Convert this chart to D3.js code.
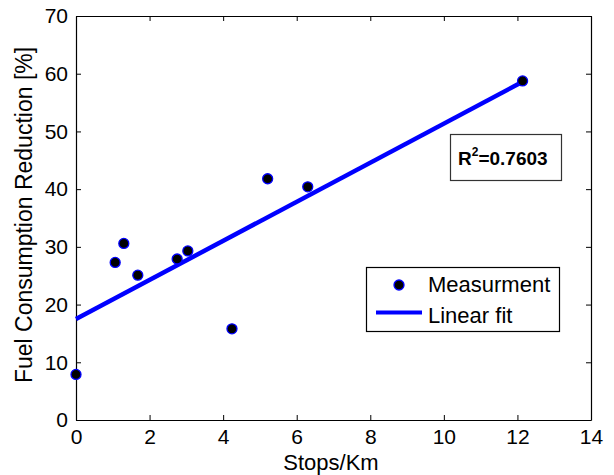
<!DOCTYPE html>
<html>
<head>
<meta charset="utf-8">
<script src="https://cdn.jsdelivr.net/npm/d3@7"></script>
<style>
  html, body { margin: 0; padding: 0; background: #fff; }
  svg { display: block; }
  text { font-family: Arial, "Liberation Sans", Helvetica, sans-serif; fill: #000; }
</style>
</head>
<body>
<script>
// ---- data ----
const stops = [0, 1.065, 1.30, 1.68, 2.75, 3.04, 4.24, 5.21, 6.30, 12.14];
const reduction = [7.9, 27.3, 30.6, 25.1, 27.9, 29.3, 15.8, 41.8, 40.4, 58.75];
const fitX = [0, 12.14];
const fitY = [17.5, 58.6];
const xTicks = [0, 2, 4, 6, 8, 10, 12, 14];
const yTicks = [0, 10, 20, 30, 40, 50, 60, 70];
const legendLabels = ["Measurment", "Linear fit"];
const rSquared = "0.7603";

const W = 614, H = 475;
const m = { left: 76, top: 16, right: 591, bottom: 420 };

const svg = d3.select("body").append("svg").attr("width", W).attr("height", H);

const x = d3.scaleLinear().domain([0, 14]).range([m.left, m.right]);
const y = d3.scaleLinear().domain([0, 70]).range([m.bottom, m.top]);

const tickFont = "21px";

// bottom axis
const gx = svg.append("g").attr("transform", `translate(0,${m.bottom})`)
  .call(d3.axisBottom(x).tickValues(xTicks).tickSizeInner(-5).tickSizeOuter(0).tickPadding(9));
// left axis
const gy = svg.append("g").attr("transform", `translate(${m.left},0)`)
  .call(d3.axisLeft(y).tickValues(yTicks).tickSizeInner(-5).tickSizeOuter(0).tickPadding(8));
// top axis (ticks only)
const gt = svg.append("g").attr("transform", `translate(0,${m.top})`)
  .call(d3.axisTop(x).tickValues(xTicks).tickSizeInner(-5).tickSizeOuter(0).tickFormat(""));
// right axis (ticks only)
const gr = svg.append("g").attr("transform", `translate(${m.right},0)`)
  .call(d3.axisRight(y).tickValues(yTicks).tickSizeInner(-5).tickSizeOuter(0).tickFormat(""));

[gx, gy, gt, gr].forEach(g => {
  g.select(".domain").attr("stroke", "#000").attr("stroke-width", 1.2);
  g.selectAll(".tick line").attr("stroke", "#000").attr("stroke-width", 1);
  g.selectAll(".tick text").style("font-size", tickFont).attr("fill", "#000")
    .style("font-family", "Arial, 'Liberation Sans', sans-serif");
});

// axis labels
svg.append("text")
  .attr("x", 331).attr("y", 470)
  .attr("text-anchor", "middle").style("font-size", "22px")
  .text("Stops/Km");

svg.append("text")
  .attr("transform", `translate(32,215) rotate(-90)`)
  .attr("text-anchor", "middle").style("font-size", "23px")
  .text("Fuel Consumption Reduction [%]");

// fit line
svg.append("line")
  .attr("x1", x(fitX[0])).attr("y1", y(fitY[0]))
  .attr("x2", x(fitX[1])).attr("y2", y(fitY[1]))
  .attr("stroke", "#0000ff").attr("stroke-width", 4.5);

// points
svg.append("g").selectAll("circle")
  .data(stops.map((s, i) => ({ s, r: reduction[i] })))
  .join("circle")
  .attr("cx", d => x(d.s)).attr("cy", d => y(d.r))
  .attr("r", 5).attr("fill", "#000").attr("stroke", "#0000ff").attr("stroke-width", 1.3);

// R^2 box
const rb = svg.append("g");
rb.append("rect").attr("x", 450.5).attr("y", 134.5).attr("width", 111).attr("height", 46)
  .attr("fill", "#fff").attr("stroke", "#333").attr("stroke-width", 1.2);
const rt = rb.append("text").attr("x", 458).attr("y", 165)
  .style("font-size", "19px").style("font-weight", "bold");
rt.append("tspan").text("R");
rt.append("tspan").attr("dy", -9).style("font-size", "12px").text("2");
rt.append("tspan").attr("dy", 9).text("=" + rSquared);

// legend
const lg = svg.append("g");
lg.append("rect").attr("x", 366.5).attr("y", 267.5).attr("width", 193).attr("height", 64)
  .attr("fill", "#fff").attr("stroke", "#000").attr("stroke-width", 1.2);
lg.append("circle").attr("cx", 399).attr("cy", 285).attr("r", 5)
  .attr("fill", "#000").attr("stroke", "#0000ff").attr("stroke-width", 1.3);
lg.append("line").attr("x1", 376).attr("x2", 422).attr("y1", 312.5).attr("y2", 312.5)
  .attr("stroke", "#0000ff").attr("stroke-width", 4);
lg.selectAll("text.leg").data(legendLabels).join("text").attr("class", "leg")
  .attr("x", 428).attr("y", (d, i) => 292 + i * 30.5)
  .style("font-size", "22px").text(d => d);
</script>
</body>
</html>
